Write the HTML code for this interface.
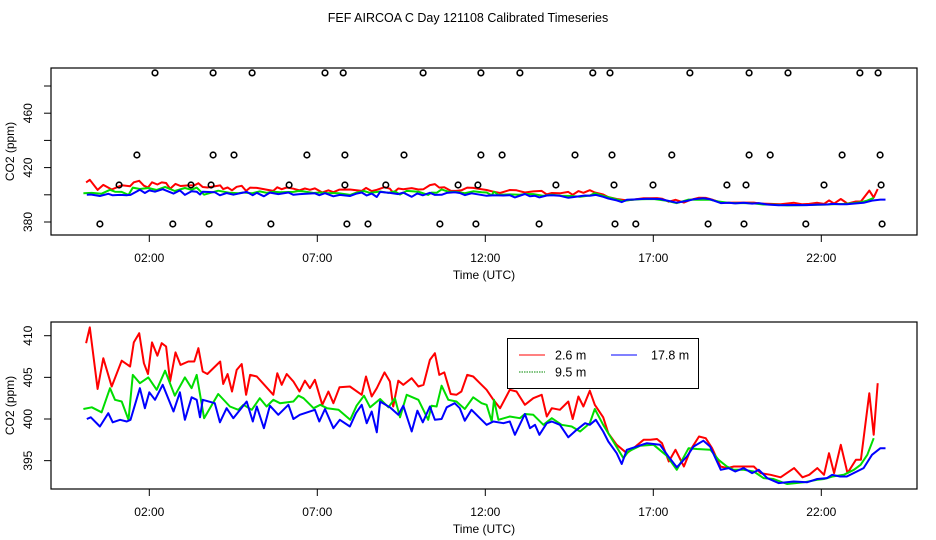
<!DOCTYPE html>
<html><head><meta charset="utf-8">
<style>
html,body{margin:0;padding:0;background:#fff;}
svg{display:block;font-family:"Liberation Sans",Arial,sans-serif;}
</style></head>
<body>
<svg id="chart" width="936" height="540" viewBox="0 0 936 540">
<text x="468" y="22" text-anchor="middle" font-size="12.5">FEF AIRCOA C  Day 121108  Calibrated Timeseries</text>
<g id="top"></g>
<g id="bot"></g>
</svg>
<script>
const xTicks = [2, 7, 12, 17, 22];
const xTickLabels = ["02:00", "07:00", "12:00", "17:00", "22:00"];
const topYTicks = [380, 400, 420, 440, 460, 480];
const topYLabels = ["380", "", "420", "", "460", ""];
const botYTicks = [395, 400, 405, 410];
const botYLabels = ["395", "400", "405", "410"];

const redT = [0.12,0.23,0.46,0.63,0.88,1.18,1.43,1.54,1.70,1.84,1.96,2.08,2.24,2.37,2.50,2.62,2.78,2.93,3.16,3.34,3.46,3.59,3.73,4.11,4.20,4.33,4.46,4.60,4.75,4.88,5.00,5.20,5.69,5.81,5.94,6.09,6.29,6.47,6.63,6.78,6.93,7.15,7.33,7.48,7.66,7.97,8.32,8.45,8.62,8.77,9.00,9.16,9.26,9.41,9.56,9.81,10.01,10.16,10.35,10.50,10.63,10.78,10.97,11.14,11.29,11.46,11.64,11.84,12.04,12.24,12.44,12.73,12.93,13.18,13.43,13.68,13.83,13.98,14.22,14.47,14.60,14.77,14.92,15.11,15.26,15.51,15.66,15.91,16.21,16.41,16.71,16.91,17.11,17.26,17.46,17.66,17.91,18.11,18.36,18.56,18.75,19.00,19.20,19.40,19.60,19.99,20.19,20.49,20.79,21.19,21.44,21.64,21.88,22.08,22.23,22.38,22.58,22.78,23.03,23.18,23.43,23.56,23.68];
const redV = [409.1,411.0,403.6,407.3,403.9,407.0,406.3,409.2,410.3,406.7,405.4,409.2,407.6,409.1,408.7,404.5,408.0,406.5,406.9,406.9,408.5,405.7,405.4,406.9,404.2,405.4,403.3,405.9,406.6,402.9,405.3,405.1,402.9,405.5,404.1,405.4,404.5,403.3,404.6,403.7,404.7,401.7,403.3,401.9,403.8,403.9,402.9,405.1,402.7,403.7,405.6,404.5,401.5,404.6,404.1,404.9,403.9,404.1,407.1,407.9,405.3,405.6,403.0,402.9,403.3,405.3,405.1,404.3,403.5,402.3,401.3,403.5,403.3,401.7,402.5,402.9,400.3,401.3,401.1,402.1,400.0,402.7,401.5,403.4,401.7,400.2,398.3,396.9,395.9,396.5,397.5,397.5,397.6,397.1,394.9,396.3,394.3,396.3,397.9,397.7,396.5,394.3,394.1,394.3,394.3,394.3,393.5,393.3,393.0,394.1,393.0,393.3,394.1,393.3,395.9,393.5,396.9,393.5,395.1,395.1,403.1,398.1,404.3];

const greenT = [0.04,0.29,0.58,0.83,0.98,1.18,1.38,1.51,1.72,1.97,2.22,2.47,2.76,3.06,3.26,3.41,3.63,4.05,4.40,4.65,4.80,5.05,5.29,5.49,5.69,5.89,6.29,6.44,6.59,6.89,7.09,7.29,7.63,7.98,8.17,8.39,8.57,8.87,9.12,9.31,9.46,9.66,10.01,10.30,10.40,10.55,10.70,10.90,11.14,11.39,11.64,11.89,12.04,12.19,12.26,12.39,12.73,13.03,13.18,13.43,13.73,13.98,14.27,14.57,14.82,15.11,15.26,15.51,15.81,16.11,16.26,16.61,17.01,17.40,17.70,18.05,18.30,18.70,18.94,19.19,19.39,19.69,19.99,20.28,20.58,20.98,21.48,21.88,22.08,22.33,22.67,22.97,23.17,23.37,23.56];
const greenV = [401.2,401.4,400.8,403.7,402.3,402.1,399.9,405.3,404.3,405.0,403.5,405.8,402.8,405.0,403.7,405.3,400.1,403.0,401.5,401.1,401.7,401.1,402.5,401.5,402.3,401.9,402.1,402.8,402.5,401.3,401.7,401.3,401.1,399.9,401.6,402.8,401.4,402.4,401.4,402.5,400.2,402.9,402.3,399.9,401.6,401.5,404.0,402.3,402.1,401.2,402.6,401.9,401.7,399.7,402.3,399.9,400.3,400.1,400.6,400.5,399.3,400.1,399.3,399.1,398.5,399.5,401.2,399.3,397.3,395.3,396.1,396.8,396.9,395.6,393.9,396.5,396.4,396.3,395.1,394.3,393.9,393.9,393.7,392.9,392.8,392.2,392.4,392.7,392.8,393.1,393.3,393.9,394.5,395.7,397.7];

const blueT = [0.14,0.26,0.53,0.78,0.91,1.13,1.33,1.44,1.72,1.87,2.00,2.17,2.40,2.72,2.91,3.06,3.26,3.41,3.51,3.59,3.95,4.10,4.30,4.50,4.90,5.08,5.20,5.41,5.59,5.84,6.14,6.29,6.48,6.93,7.06,7.23,7.48,7.67,7.97,8.15,8.32,8.47,8.62,8.77,8.87,9.16,9.41,9.56,9.81,9.98,10.14,10.35,10.50,10.70,10.85,11.09,11.24,11.39,11.59,11.84,12.04,12.24,12.54,12.73,12.88,13.18,13.33,13.48,13.61,13.83,13.98,14.22,14.47,14.72,14.97,15.11,15.29,15.51,15.66,15.91,16.06,16.21,16.51,16.81,17.20,17.45,17.70,18.00,18.20,18.49,18.69,19.01,19.24,19.44,19.69,19.94,20.14,20.39,20.73,21.18,21.57,21.88,22.17,22.32,22.56,22.76,22.96,23.26,23.51,23.76,23.91];
const blueV = [400.0,400.2,399.1,400.7,399.6,399.9,399.7,399.9,403.7,401.3,403.2,402.3,404.1,400.9,403.2,399.9,402.6,402.3,400.2,402.3,401.9,399.6,401.3,400.1,402.1,399.7,401.5,398.9,401.6,400.5,401.7,400.0,400.5,401.1,399.7,401.2,398.9,399.9,399.1,400.7,401.7,399.5,400.9,398.4,402.1,401.4,400.5,401.6,398.5,401.0,399.6,401.5,399.9,400.0,401.4,401.9,401.3,399.8,401.1,400.1,399.3,399.7,399.5,399.7,398.1,400.6,398.9,399.3,398.1,399.5,399.7,399.3,397.8,398.7,399.5,399.3,399.9,398.5,397.3,395.9,394.6,396.3,396.7,397.1,396.9,395.5,394.2,395.5,396.7,397.4,396.7,393.9,394.1,393.7,394.1,393.5,393.9,392.9,392.3,392.5,392.4,392.8,392.9,393.3,393.1,393.1,393.5,394.1,395.7,396.5,396.5];

const circleT = [2.17,3.90,5.06,7.23,7.77,10.15,11.87,13.03,15.20,15.71,18.09,19.85,21.01,23.15,23.69,
 1.63,3.90,4.52,6.69,7.82,9.58,11.87,12.50,14.67,15.77,17.55,19.85,20.48,22.62,23.75,
 1.10,3.24,3.84,6.16,7.82,9.04,11.19,11.78,14.10,15.83,16.99,19.19,19.76,22.08,23.78,
 0.53,2.70,3.78,5.62,7.88,8.51,10.65,11.72,13.60,15.86,16.48,18.63,19.70,21.54,23.81];
const circleV = [489.6,489.6,489.6,489.6,489.6,489.6,489.6,489.6,489.6,489.6,489.6,489.6,489.6,489.6,489.6,
 429.3,429.3,429.3,429.3,429.3,429.3,429.3,429.3,429.3,429.3,429.3,429.3,429.3,429.3,429.3,
 407.2,407.2,407.2,407.2,407.2,407.2,407.2,407.2,407.2,407.2,407.2,407.2,407.2,407.2,407.2,
 378.5,378.5,378.5,378.5,378.5,378.5,378.5,378.5,378.5,378.5,378.5,378.5,378.5,378.5,378.5];

const NS = "http://www.w3.org/2000/svg";
const L = 51, R = 917;
function xScale(t){ return 149.3 + (t - 2) * 33.6; }
function mk(parent, tag, attrs){
  const e = document.createElementNS(NS, tag);
  for (const k in attrs) e.setAttribute(k, attrs[k]);
  parent.appendChild(e);
  return e;
}

function panel(g, top, bottom, yScale, yTicks, yLabels, yLabX, showCircles){
  const series = [[redT, redV, "#ff0000", "red"], [greenT, greenV, "#00dd00", "green"], [blueT, blueV, "#0000ff", "blue"]];
  series.forEach(s => {
    let d = "";
    s[0].forEach((t, i) => { d += (i ? "L" : "M") + xScale(t).toFixed(1) + "," + yScale(s[1][i]).toFixed(1); });
    const p = mk(g, "path", {d: d, fill: "none", stroke: s[2], "stroke-width": 2, "stroke-linejoin": "round"});
    
    
  });
  if (showCircles) {
    circleT.forEach((t, i) => {
      const c = mk(g, "circle", {cx: xScale(t).toFixed(1), cy: yScale(circleV[i]).toFixed(1), r: 2.8, fill: "none", stroke: "#000", "stroke-width": 1.6});
      
      
    });
  }
  const box = mk(g, "rect", {x: L, y: top, width: R - L, height: bottom - top, fill: "none", stroke: "#000", "stroke-width": 1.2});
  
  
  xTicks.forEach((t, i) => {
    const x = xScale(t);
    const tk = mk(g, "line", {x1: x, x2: x, y1: bottom, y2: bottom + 7, stroke: "#000", "stroke-width": 1});
    
    
    const lb = mk(g, "text", {x: x, y: bottom + 27, "text-anchor": "middle", "font-size": 12});
    lb.textContent = xTickLabels[i];
    
    
  });
  yTicks.forEach((v, i) => {
    const y = yScale(v);
    const tk = mk(g, "line", {x1: L - 7, x2: L, y1: y, y2: y, stroke: "#000", "stroke-width": 1});
    
    
    if (yLabels[i]) {
      const lb = mk(g, "text", {x: yLabX, y: y, "text-anchor": "middle", "font-size": 12, transform: "rotate(-90 " + yLabX + " " + y + ")"});
      lb.textContent = yLabels[i];
      
      
    }
  });
  const xt = mk(g, "text", {x: 484, y: bottom + 44, "text-anchor": "middle", "font-size": 12});
  xt.textContent = "Time (UTC)";
  
  
  const cy = (top + bottom) / 2;
  const yt = mk(g, "text", {x: 14, y: cy, "text-anchor": "middle", "font-size": 12, transform: "rotate(-90 14 " + cy + ")"});
  yt.textContent = "CO2 (ppm)";
  
  
}

const gTop = document.getElementById("top");
const gBot = document.getElementById("bot");
panel(gTop, 68, 235, v => 222 - (v - 380) * 1.36, topYTicks, topYLabels, 32, true);
panel(gBot, 322, 489, v => 419 - (v - 400) * 8.33, botYTicks, botYLabels, 32, false);

// legend
const lg = mk(gBot, "g", {});


mk(lg, "rect", {x: 507.5, y: 338.5, width: 191, height: 50, fill: "#fff", stroke: "#000", "stroke-width": 1});
const entries = [["2.6 m", "#ff0000", 519, 355, null], ["17.8 m", "#0000ff", 611, 355, null], ["9.5 m", "#008800", 519, 372, "1.5,1"]];
entries.forEach(en => {
  const eg = mk(lg, "g", {});
  
  
  const a = {x1: en[2], x2: en[2] + 26, y1: en[3], y2: en[3], stroke: en[1], "stroke-width": 1};
  if (en[4]) a["stroke-dasharray"] = en[4];
  mk(eg, "line", a);
  const t = mk(eg, "text", {x: en[2] + (en[0] === "17.8 m" ? 40 : 36), y: en[3] + 4.5, "font-size": 12.5});
  t.textContent = en[0];
});
</script>
</body></html>
